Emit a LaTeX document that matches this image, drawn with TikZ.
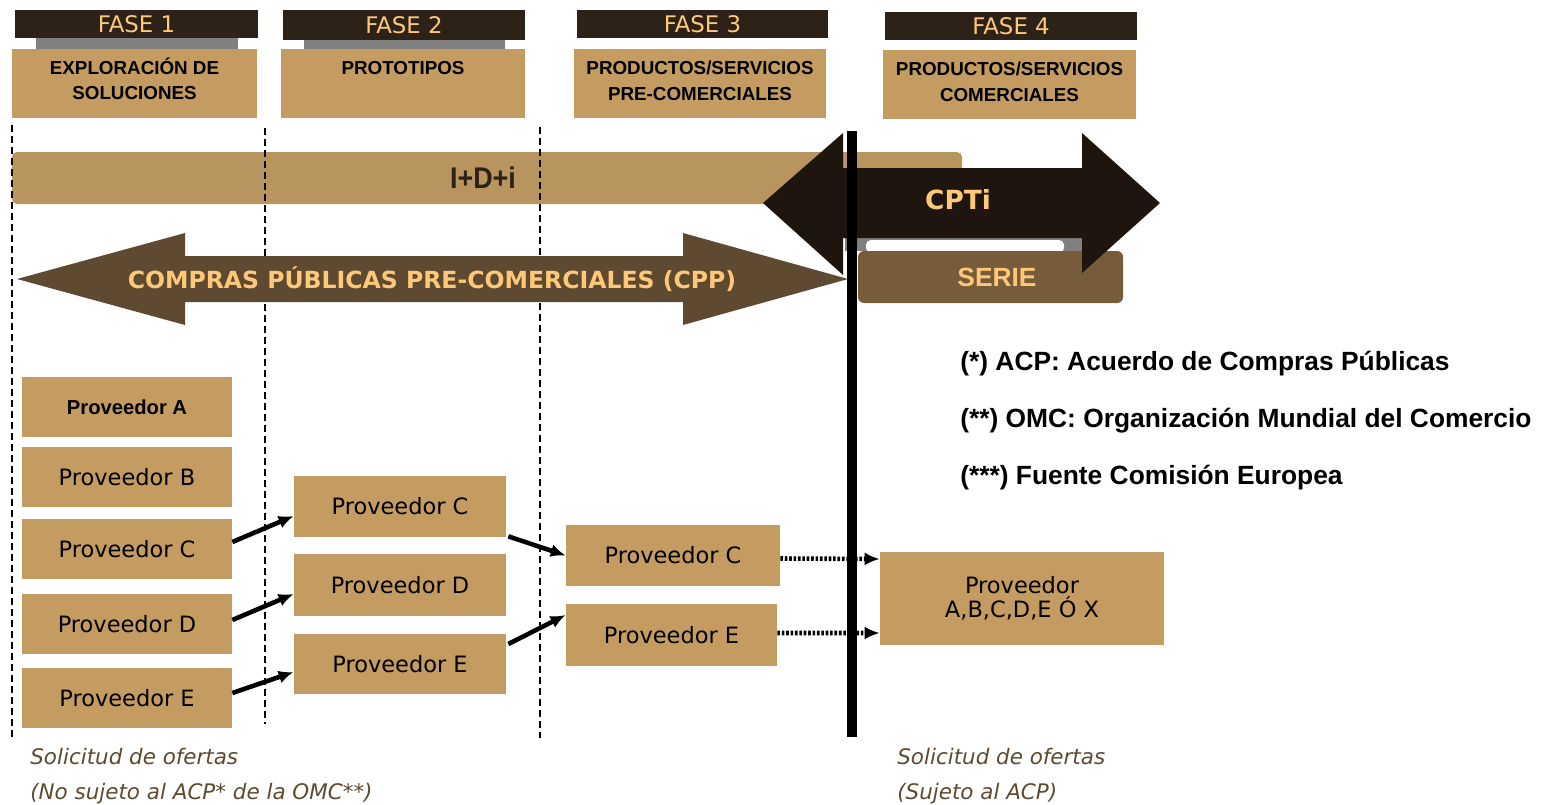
\documentclass[tikz,border=0pt]{standalone}
\usepackage{fontspec}
\setmainfont{DejaVu Sans}
\newfontfamily\libsans{Liberation Sans}
\usetikzlibrary{calc,arrows.meta,positioning}
\definecolor{fasedark}{RGB}{45,34,23}
\definecolor{faseorange}{RGB}{255,200,120}
\definecolor{provtan}{RGB}{196,156,98}
\definecolor{bartan}{RGB}{184,149,94}
\definecolor{cppbrown}{RGB}{94,74,48}
\definecolor{cptidark}{RGB}{30,22,14}
\definecolor{seriebrown}{RGB}{118,92,58}

\begin{document}
\begin{tikzpicture}[x=0.2mm, y=-0.2mm,
    fasehead/.style={fill=fasedark, minimum height=5.6mm, inner sep=0pt, text=faseorange, font=\fontsize{13}{15}\selectfont},
    fasebox/.style={fill=provtan, minimum height=13.8mm, inner sep=0pt},
    fasetxt/.style={anchor=north, align=center, inner sep=0pt, font=\libsans\bfseries\fontsize{10.7}{14.7}\selectfont},
    prov/.style={fill=provtan, minimum width=42mm, minimum height=12mm, inner sep=0pt, font=\fontsize{12.8}{14}\selectfont},
    phaseline/.style={dash pattern=on 1.4mm off 0.8mm, line width=0.8pt},
    provarrow/.style={line width=2.6pt, -{Latex[length=3mm,width=2.6mm]}},
    dotarrow/.style={provarrow, dash pattern=on 1.5pt off 1pt},
    note/.style={anchor=west, inner sep=0pt, font=\libsans\bfseries\fontsize{15}{18}\selectfont},
    request/.style={anchor=west, inner sep=0pt, align=left, text=cppbrown, font=\itshape\fontsize{12.2}{20}\selectfont}]
    \useasboundingbox (0,0) rectangle (1555,805);

    % fases
    \node[fasehead, minimum width=48.6mm] (h1) at (136.5,24) {FASE 1};
    \fill[gray] (36,38) rectangle (238,49);
    \node[fasebox, minimum width=49mm] (b1) at (134.5,83.5) {};
    \node[fasetxt, below=1.7mm of b1.north] (t1) {EXPLORACIÓN DE\\SOLUCIONES};

    \node[fasehead, minimum width=48.4mm, minimum height=6mm] (h2) at (404,25) {FASE 2};
    \fill[gray] (304,40) rectangle (505,49);
    \node[fasebox, minimum width=48.8mm] (b2) at (403,83.5) {};
    \node[fasetxt, below=2.4mm of b2.north] (t2) {PROTOTIPOS};

    \node[fasehead, minimum width=50.2mm] (h3) at (702.5,24) {FASE 3};
    \node[fasebox, minimum width=50.4mm] (b3) at (700,83.5) {};
    \node[fasetxt, below=2.4mm of b3.north] (t3) {PRODUCTOS/SERVICIOS\\PRE-COMERCIALES};

    \node[fasehead, minimum width=50.4mm] (h4) at (1011,26) {FASE 4};
    \node[fasebox, minimum width=50.6mm] (b4) at (1009.5,84.5) {};
    \node[fasetxt, below=2.4mm of b4.north] (t4) {PRODUCTOS/SERVICIOS\\COMERCIALES};

    % I+D+i
    \fill[bartan, rounded corners=1mm] (12,152) rectangle (962,204);
    \node[text=fasedark, font=\libsans\bfseries\fontsize{17}{19}\selectfont] (idi) at (483,178) {\scalebox{0.9}[1]{I+D+i}};

    \draw[phaseline] (12,125) -- (12,740);
    \draw[phaseline] (265,128) -- (265,724);
    \draw[phaseline] (540,127) -- (540,738);

    % serie
    \fill[gray] (845,238) rectangle (1082,251);
    \fill[white, rounded corners=1mm] (866,240) rectangle (1064,253);
    \fill[seriebrown, rounded corners=1.2mm] (858,251) rectangle (1123,303);
    \node[text=faseorange, font=\libsans\bfseries\fontsize{15}{17}\selectfont] (serie) at (997,277) {SERIE};

    % CPP
    \fill[cppbrown] (17,279) -- (185,233) -- (185,256) -- (683,256) -- (683,233) -- (848,279)
        -- (683,325) -- (683,302) -- (185,302) -- (185,325) -- cycle;
    \node[text=faseorange, font=\bfseries\fontsize{13.4}{15}\selectfont] (cpp) at (432,279) {COMPRAS PÚBLICAS PRE-COMERCIALES (CPP)};

    % CPTi
    \fill[cptidark] (763,203) -- (843,133) -- (843,168) -- (1082,168) -- (1082,133) -- (1160,203)
        -- (1082,273) -- (1082,238) -- (843,238) -- (843,275) -- cycle;
    \node[text=faseorange, font=\bfseries\fontsize{15}{17}\selectfont] (cpti) at (958,200) {CPTi};

    % proveedores
    \node[prov, font=\libsans\bfseries\fontsize{11.5}{14}\selectfont] (a1) at (127,407) {Proveedor A};
    \node[prov] (b1) at (127,477) {Proveedor B};
    \node[prov] (c1) at (127,549) {Proveedor C};
    \node[prov] (d1) at (127,624) {Proveedor D};
    \node[prov] (e1) at (127,698) {Proveedor E};

    \node[prov, minimum width=42.4mm, minimum height=12.2mm] (c2) at (400,506.5) {Proveedor C};
    \node[prov, minimum width=42.4mm, minimum height=12.4mm] (d2) at (400,585) {Proveedor D};
    \node[prov, minimum width=42.4mm] (e2) at (400,664) {Proveedor E};

    \node[prov, minimum width=42.8mm, minimum height=12.2mm] (c3) at (673,555.5) {Proveedor C};
    \node[prov, minimum width=42.2mm, minimum height=12.4mm] (e3) at (671.5,635) {Proveedor E};

    \node[prov, minimum width=56.8mm, minimum height=18.6mm, align=center, font=\fontsize{12.8}{13.6}\selectfont] (x4) at (1022,598.5) {Proveedor\\A,B,C,D,E Ó X};

    \draw[provarrow] ($(c1.east)+(0,-7)$) -- ($(c2.west)+(0,9.5)$);
    \draw[provarrow] ($(d1.east)+(0,-4)$) -- ($(d2.west)+(0,9)$);
    \draw[provarrow] ($(e1.east)+(0,-5)$) -- ($(e2.west)+(0,8)$);
    \draw[provarrow] ($(c2.south east)+(2,-1)$) -- (c3.west);
    \draw[provarrow] ($(e2.east)+(2,-20)$) -- ($(e3.west)+(0,-20)$);
    \draw[dotarrow] ($(c3.east)+(0,3)$) -- ($(x4.west)+(0,-39.5)$);
    \draw[dotarrow] ($(e3.east)+(0,-2)$) -- ($(x4.west)+(0,34.5)$);

    \draw[line width=2mm] (852,131) -- (852,737);

    % notas
    \node[note] (n1) at (960,364) {(*) ACP: Acuerdo de Compras Públicas};
    \node[note] (n2) at (960,421) {(**) OMC: Organización Mundial del Comercio};
    \node[note] (n3) at (960,478) {(***) Fuente Comisión Europea};

    \node[request] (r1) at (30,776) {Solicitud de ofertas\\(No sujeto al ACP* de la OMC**)};
    \node[request] (r2) at (897,776) {Solicitud de ofertas\\(Sujeto al ACP)};
\end{tikzpicture}
\end{document}
